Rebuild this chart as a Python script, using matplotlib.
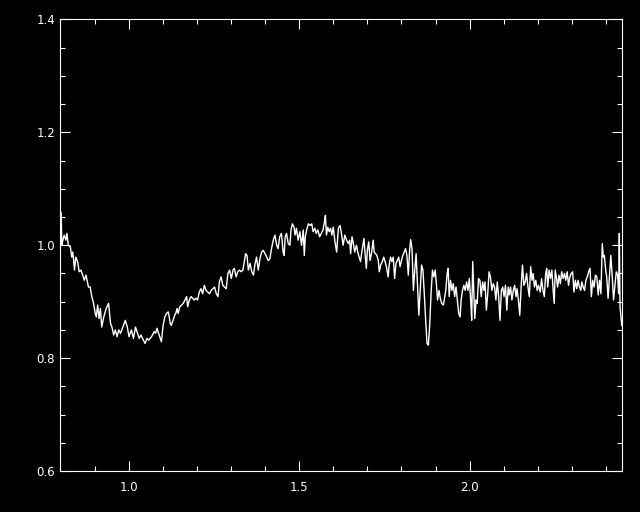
import matplotlib
matplotlib.use('agg')
import matplotlib.pyplot as plt
from matplotlib.ticker import MultipleLocator

# spectrum, in segments (wavelength, flux)
x_a = [0.801, 0.802, 0.804, 0.807, 0.811, 0.816, 0.819, 0.823, 0.829, 0.833, 0.836, 0.839,
       0.841, 0.845, 0.850, 0.855, 0.860, 0.865, 0.870, 0.875, 0.882, 0.887, 0.892, 0.897,
       0.902, 0.905, 0.909, 0.913, 0.917, 0.921, 0.927, 0.934, 0.941, 0.947, 0.951, 0.956,
       0.961, 0.966, 0.971, 0.976, 0.983, 0.990, 0.996, 1.001, 1.008, 1.014, 1.020, 1.026,
       1.031, 1.036, 1.043, 1.048, 1.054, 1.059, 1.067, 1.075, 1.079, 1.083]
y_a = [1.059, 1.055, 1.000, 1.009, 1.018, 1.009, 1.021, 1.000, 0.997, 0.979, 0.988, 0.971,
       0.956, 0.979, 0.971, 0.953, 0.956, 0.947, 0.938, 0.947, 0.926, 0.926, 0.909, 0.897,
       0.879, 0.873, 0.894, 0.870, 0.888, 0.855, 0.873, 0.888, 0.897, 0.861, 0.855, 0.841,
       0.850, 0.838, 0.850, 0.844, 0.855, 0.867, 0.855, 0.838, 0.850, 0.835, 0.855, 0.844,
       0.835, 0.841, 0.832, 0.826, 0.835, 0.832, 0.838, 0.847, 0.844, 0.853]

x_b = [1.086, 1.091, 1.096, 1.101, 1.106, 1.111, 1.116, 1.119, 1.122, 1.125, 1.130, 1.135,
       1.138, 1.142, 1.145, 1.150, 1.155, 1.160, 1.165, 1.170, 1.173, 1.178, 1.183, 1.188,
       1.192, 1.197, 1.202, 1.207, 1.212, 1.217, 1.222, 1.227, 1.232, 1.237, 1.242, 1.247,
       1.252, 1.257, 1.262, 1.266, 1.271, 1.276, 1.281, 1.286, 1.291, 1.296, 1.301, 1.306,
       1.310, 1.315, 1.320, 1.325, 1.330, 1.335, 1.339, 1.343, 1.347, 1.351, 1.356, 1.361,
       1.366]
y_b = [0.847, 0.838, 0.829, 0.858, 0.873, 0.879, 0.882, 0.873, 0.861, 0.858, 0.867, 0.876,
       0.879, 0.888, 0.879, 0.891, 0.894, 0.897, 0.903, 0.909, 0.891, 0.903, 0.909, 0.906,
       0.903, 0.906, 0.903, 0.917, 0.923, 0.914, 0.929, 0.920, 0.917, 0.914, 0.920, 0.923,
       0.926, 0.914, 0.909, 0.935, 0.944, 0.929, 0.926, 0.923, 0.950, 0.956, 0.941, 0.956,
       0.959, 0.944, 0.953, 0.956, 0.953, 0.956, 0.971, 0.985, 0.982, 0.956, 0.968, 0.953,
       0.947]

x_c = [1.370, 1.375, 1.380, 1.385, 1.390, 1.395, 1.400, 1.405, 1.409, 1.414, 1.419, 1.424,
       1.429, 1.434, 1.438, 1.443, 1.448, 1.453, 1.456, 1.459, 1.463, 1.468, 1.473, 1.476,
       1.480, 1.485, 1.488, 1.492, 1.497, 1.502, 1.507, 1.512, 1.515, 1.518, 1.522, 1.527,
       1.532, 1.537, 1.541, 1.546, 1.550, 1.555, 1.560, 1.565, 1.570, 1.574, 1.577, 1.580,
       1.584, 1.588, 1.592, 1.596, 1.600, 1.605, 1.610, 1.615, 1.620, 1.624, 1.629, 1.634,
       1.639, 1.644]
y_c = [0.965, 0.979, 0.956, 0.976, 0.988, 0.991, 0.985, 0.979, 0.973, 0.976, 0.994, 1.009,
       1.018, 1.000, 0.994, 1.015, 1.021, 0.988, 0.982, 1.015, 1.021, 1.003, 1.000, 1.027,
       1.038, 1.032, 1.018, 1.030, 1.009, 1.024, 1.000, 1.027, 0.982, 1.015, 1.027, 1.038,
       1.035, 1.038, 1.024, 1.030, 1.021, 1.027, 1.015, 1.021, 1.027, 1.041, 1.053, 1.018,
       1.032, 1.024, 1.030, 1.018, 1.032, 1.006, 0.988, 1.030, 1.035, 1.021, 1.000, 1.018,
       1.009, 1.003]

x_d = [1.648, 1.651, 1.655, 1.659, 1.663, 1.668, 1.673, 1.676, 1.680, 1.683, 1.687, 1.690,
       1.694, 1.697, 1.700, 1.704, 1.708, 1.712, 1.717, 1.720, 1.724, 1.728, 1.732, 1.735,
       1.739, 1.744, 1.748, 1.752, 1.756, 1.761, 1.764, 1.768, 1.772, 1.776, 1.780, 1.784,
       1.788, 1.792, 1.796, 1.800, 1.804, 1.808, 1.812, 1.816, 1.820, 1.824, 1.827, 1.831,
       1.835, 1.839, 1.843, 1.847, 1.851, 1.855, 1.859, 1.863, 1.867, 1.871, 1.875, 1.879,
       1.883, 1.887, 1.891, 1.895, 1.899, 1.902, 1.906, 1.910, 1.914, 1.918, 1.923]
y_d = [1.009, 0.985, 1.015, 1.003, 0.988, 1.000, 0.985, 0.979, 0.971, 0.985, 1.000, 1.012,
       0.979, 0.959, 0.991, 1.006, 0.973, 0.985, 1.009, 0.988, 0.985, 0.982, 0.973, 0.953,
       0.965, 0.971, 0.979, 0.971, 0.962, 0.944, 0.965, 0.979, 0.971, 0.979, 0.941, 0.968,
       0.973, 0.979, 0.962, 0.973, 0.982, 0.988, 0.994, 0.982, 0.947, 0.991, 1.010, 0.994,
       0.920, 0.956, 0.985, 0.932, 0.876, 0.920, 0.965, 0.956, 0.914, 0.867, 0.826, 0.823,
       0.861, 0.917, 0.956, 0.944, 0.956, 0.935, 0.903, 0.920, 0.906, 0.897, 0.894]

x_e = [1.930, 1.934, 1.937, 1.940, 1.944, 1.948, 1.952, 1.956, 1.960, 1.964, 1.968, 1.972,
       1.975, 1.979, 1.983, 1.987, 1.991, 1.995, 1.999, 2.003, 2.006, 2.009, 2.012, 2.015,
       2.019, 2.022, 2.026, 2.030, 2.034, 2.038, 2.042, 2.045, 2.049, 2.053, 2.057, 2.061,
       2.065, 2.069, 2.073, 2.077, 2.081, 2.085, 2.089, 2.093, 2.097, 2.101, 2.105, 2.109,
       2.113, 2.116, 2.120, 2.124, 2.128, 2.132, 2.136, 2.139, 2.143, 2.147, 2.151, 2.155,
       2.159, 2.163, 2.167, 2.171, 2.175, 2.179, 2.183, 2.186, 2.190, 2.194, 2.198, 2.202]
y_e = [0.920, 0.950, 0.959, 0.909, 0.938, 0.920, 0.932, 0.909, 0.926, 0.903, 0.879, 0.873,
       0.903, 0.920, 0.929, 0.920, 0.935, 0.920, 0.941, 0.903, 0.867, 0.971, 0.920, 0.870,
       0.903, 0.897, 0.941, 0.938, 0.909, 0.935, 0.920, 0.935, 0.885, 0.914, 0.953, 0.944,
       0.920, 0.932, 0.926, 0.903, 0.935, 0.909, 0.867, 0.920, 0.926, 0.909, 0.929, 0.885,
       0.926, 0.912, 0.926, 0.903, 0.920, 0.929, 0.909, 0.923, 0.903, 0.876, 0.926, 0.965,
       0.929, 0.935, 0.950, 0.926, 0.909, 0.962, 0.938, 0.950, 0.926, 0.938, 0.920, 0.929]

x_f = [2.207, 2.211, 2.215, 2.219, 2.223, 2.226, 2.229, 2.233, 2.237, 2.241, 2.245, 2.248,
       2.251, 2.255, 2.258, 2.262, 2.266, 2.270, 2.274, 2.278, 2.282, 2.286, 2.290, 2.294,
       2.298, 2.302, 2.306, 2.310, 2.314, 2.318, 2.322, 2.326, 2.329, 2.333, 2.337, 2.341,
       2.345, 2.349, 2.353, 2.357, 2.361, 2.365, 2.369, 2.373, 2.377, 2.381, 2.385, 2.389,
       2.392, 2.395, 2.399, 2.402, 2.406, 2.410, 2.414, 2.418, 2.422, 2.426, 2.430, 2.434,
       2.437, 2.439, 2.441, 2.443, 2.446]
y_f = [0.917, 0.941, 0.920, 0.909, 0.950, 0.959, 0.926, 0.956, 0.941, 0.956, 0.920, 0.897,
       0.956, 0.941, 0.926, 0.947, 0.932, 0.953, 0.941, 0.950, 0.938, 0.953, 0.929, 0.944,
       0.950, 0.953, 0.917, 0.938, 0.923, 0.938, 0.926, 0.920, 0.935, 0.926, 0.920, 0.938,
       0.944, 0.953, 0.959, 0.909, 0.938, 0.926, 0.947, 0.944, 0.912, 0.938, 0.914, 1.003,
       0.979, 0.982, 0.956, 0.944, 0.906, 0.944, 0.982, 0.947, 0.903, 0.929, 0.953, 0.947,
       0.914, 1.021, 0.891, 0.879, 0.858]

wave = x_a + x_b + x_c + x_d + x_e + x_f
flux = y_a + y_b + y_c + y_d + y_e + y_f

fig = plt.figure(figsize=(6.4, 5.12), dpi=100, facecolor='black')
ax = fig.add_axes([0.0945, 0.080, 0.878, 0.882])
ax.set_facecolor('black')

ax.plot(wave, flux, color='white', lw=1.0)

ax.set_xlim(0.8, 2.448)
ax.set_ylim(0.6, 1.4)
ax.xaxis.set_major_locator(MultipleLocator(0.5))
ax.xaxis.set_minor_locator(MultipleLocator(0.1))
ax.yaxis.set_major_locator(MultipleLocator(0.2))
ax.yaxis.set_minor_locator(MultipleLocator(0.05))
ax.xaxis.set_major_formatter(plt.FormatStrFormatter('%.1f'))
ax.yaxis.set_major_formatter(plt.FormatStrFormatter('%.1f'))

for s in ax.spines.values():
    s.set_color('white')
    s.set_linewidth(0.8)
ax.tick_params(which='both', direction='in', colors='white', top=True, right=True, width=0.8)
ax.tick_params(which='major', length=7, labelsize=8.5)
ax.tick_params(axis='x', which='major', pad=7)
ax.tick_params(axis='y', which='major', pad=4)
ax.tick_params(which='minor', length=3.5)

plt.savefig('out.png', dpi=100, facecolor='black')
